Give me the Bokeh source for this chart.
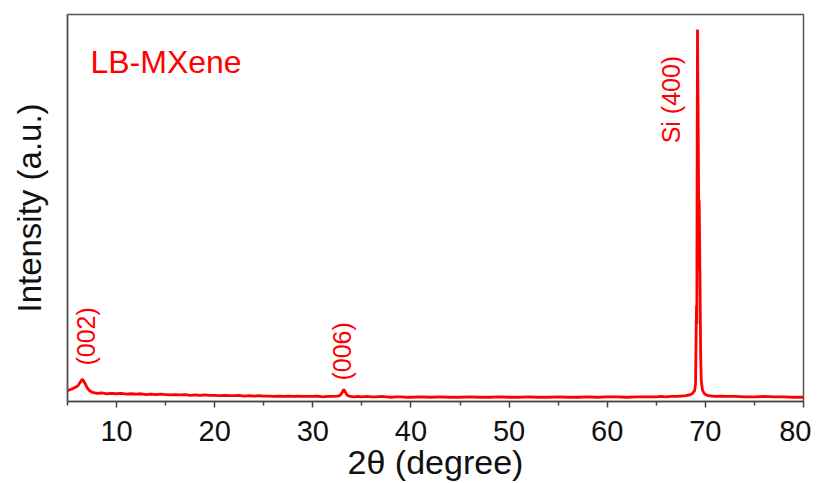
from bokeh.plotting import figure
from bokeh.models import ColumnDataSource, Range1d, FixedTicker
from bokeh.core.properties import value
from bokeh.embed import file_html
from bokeh.resources import INLINE
import math

# 2-theta (degree)
two_theta = [5.0, 5.3, 5.6, 5.9, 6.1, 6.3, 6.5, 6.6, 6.8, 7.0, 7.2, 7.5, 7.8, 8.0,
             8.5, 9.0, 9.5, 10.0, 10.5, 11.0, 11.5, 12.0, 12.5, 13.0, 13.5, 14.0, 14.5,
             15.0, 15.5, 16.0, 16.5, 17.0, 17.5, 18.0, 18.5, 19.0, 19.5, 20.0, 20.5,
             21.0, 21.5, 22.0, 22.5, 23.0, 23.5, 24.0, 24.5, 25.0, 25.5, 26.0, 26.5,
             27.0, 27.5, 28.0, 28.5, 29.0, 29.5, 30.0, 30.5, 31.0, 31.5, 32.0, 32.5,
             32.8, 33.0, 33.15, 33.3, 33.5, 33.8, 34.2, 34.6, 35.0, 35.5, 36.0, 36.5,
             37.0, 37.5, 38.0, 38.5, 39.0, 39.5, 40.0, 41.0, 42.0, 43.0, 44.0, 45.0,
             46.0, 47.0, 48.0, 49.0, 50.0, 51.0, 52.0, 53.0, 54.0, 55.0, 56.0, 57.0,
             58.0, 59.0, 60.0, 61.0, 62.0, 63.0, 64.0, 65.0, 65.5, 66.0, 66.5, 67.0,
             67.5, 68.0, 68.4, 68.7, 68.9, 69.0, 69.05, 69.1, 69.13, 69.17, 69.2,
             69.23, 69.27, 69.3, 69.33, 69.37, 69.42, 69.47, 69.52, 69.58, 69.7,
             69.85, 70.0, 70.3, 70.7, 71.0, 71.5, 72.0, 73.0, 74.0, 75.0, 76.0, 77.0,
             78.0, 79.0, 80.0]
# Intensity (a.u.)
intensity = [28, 31, 34, 38, 42, 50, 57, 55, 46, 36, 29, 24, 22, 21,
             22, 20, 21, 20, 21, 19, 20, 19, 20, 18, 19, 18, 19,
             18, 17, 18, 17, 18, 16, 17, 16, 17, 16, 16, 15,
             16, 15, 15, 16, 14, 15, 14, 15, 14, 14, 13, 14,
             13, 14, 13, 14, 13, 13, 13, 14, 12, 13, 13, 14,
             16, 24, 31, 25, 16, 13, 12, 13, 12, 13, 12, 12,
             13, 12, 11, 12, 12, 11, 11, 12, 11, 12, 11, 11,
             12, 11, 11, 12, 11, 11, 12, 11, 11, 12, 11, 11,
             12, 11, 12, 12, 11, 12, 12, 12, 13, 12, 13, 13,
             14, 15, 17, 21, 28, 45, 160, 248, 200, 700, 961,
             850, 705, 600, 340, 520, 400, 260, 120, 54, 30,
             22, 18, 15, 14, 13, 14, 13, 13, 12, 12, 13, 12,
             12, 11, 11]

# annotations
peak_labels = ["(002)", "(006)", "Si (400)"]
peak_label_x = [6.85, 33.0, 66.45]
peak_label_y = [93, 54, 667]
sample_name = "LB-MXene"

RED = "#ff0000"
FONT = "Liberation Sans"

p = figure(frame_width=736, frame_height=387, output_backend="svg",
           toolbar_location=None, x_range=Range1d(5, 80), y_range=Range1d(0, 1000),
           min_border_left=67, min_border_right=8, min_border_top=14,
           min_border_bottom=74)

p.background_fill_color = "white"
p.border_fill_color = "white"
p.grid.visible = False
p.outline_line_color = "#555555"
p.outline_line_width = 1.5

src = ColumnDataSource(dict(x=two_theta, y=intensity))
p.line("x", "y", source=src, line_color=RED, line_width=2.8)

p.text(x=peak_label_x, y=peak_label_y, text=peak_labels, angle=math.pi / 2,
       text_align="left", text_baseline="middle", text_color=RED,
       text_font=value(FONT), text_font_size="25px")

p.text(x=[7.34], y=[876], text=[sample_name], text_align="left",
       text_baseline="alphabetic", text_color=RED, text_font=value(FONT),
       text_font_size="32px")

xa = p.xaxis[0]
xa.ticker = FixedTicker(ticks=[10, 20, 30, 40, 50, 60, 70, 80],
                        minor_ticks=[5, 15, 25, 35, 45, 55, 65, 75])
xa.axis_label = "2θ (degree)"
xa.axis_label_text_font = FONT
xa.axis_label_text_font_size = "34px"
xa.axis_label_text_font_style = "normal"
xa.axis_label_text_color = "#111111"
xa.axis_label_standoff = -1
xa.major_label_text_font = FONT
xa.major_label_text_font_size = "29px"
xa.major_label_text_color = "#111111"
xa.major_label_standoff = 13
xa.axis_line_color = "#444444"
xa.axis_line_width = 1.5
xa.major_tick_line_color = "#444444"
xa.major_tick_line_width = 1.5
xa.minor_tick_line_color = "#444444"
xa.minor_tick_line_width = 1.5
xa.major_tick_in = 0
xa.major_tick_out = 6
xa.minor_tick_in = 0
xa.minor_tick_out = 4

ya = p.yaxis[0]
ya.ticker = FixedTicker(ticks=[])
ya.axis_label = "Intensity (a.u.)"
ya.axis_label_text_font = FONT
ya.axis_label_text_font_size = "33px"
ya.axis_label_text_font_style = "normal"
ya.axis_label_text_color = "#111111"
ya.axis_label_standoff = 20
ya.axis_line_color = "#555555"
ya.axis_line_width = 1.5
ya.major_tick_line_color = None
ya.minor_tick_line_color = None

open("out.html", "w").write(file_html(p, INLINE))
